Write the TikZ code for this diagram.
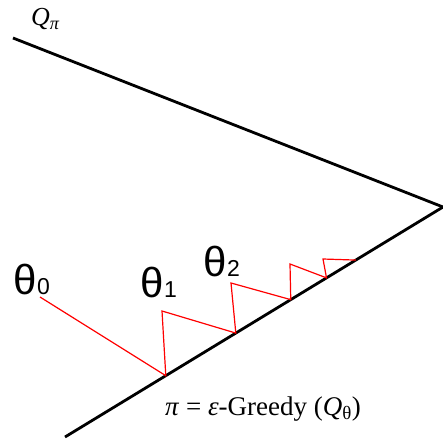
\documentclass[tikz,border=0pt]{standalone}
\usepackage{fontspec}
\setmainfont{Liberation Serif}
\newfontfamily\thetafont{Liberation Sans}
\usetikzlibrary{calc}

\newcommand{\thetalabel}[1]{{\fontsize{42}{42}\selectfont θ}\kern0.5pt{\fontsize{23}{23}\selectfont #1}}

\tikzset{
  axisline/.style={line width=2.8pt, black},
  iterline/.style={line width=1.2pt, red, line join=miter},
  thetanode/.style={anchor=base west, inner sep=0pt, font=\thetafont},
  textlabel/.style={anchor=base west, inner sep=0pt}
}

\begin{document}
\begin{tikzpicture}[x=1pt, y=-1pt]
  \useasboundingbox (0,0) rectangle (443,441);

  % The two lines meeting at the right
  \coordinate (apex) at (443,207);
  \coordinate (up) at (13,38);
  \coordinate (lo) at (65,437);
  \draw[axisline] (up) -- (apex);
  \draw[axisline] (lo) -- (apex);

  % Iterates and their projections on the lower line
  \coordinate (t0) at (40,297);
  \coordinate (t1) at (162,311);
  \coordinate (t2) at (231,283);
  \coordinate (t3) at (290,264);
  \coordinate (t4) at (323,259);
  \coordinate (p1) at ($(lo)!(166,376)!(apex)$);
  \coordinate (p2) at ($(lo)!(237,335)!(apex)$);
  \coordinate (p3) at ($(lo)!(291,300)!(apex)$);
  \coordinate (p4) at ($(lo)!(326,277)!(apex)$);
  \coordinate (p5) at ($(lo)!(357,262)!(apex)$);
  \draw[iterline] (t0) -- (p1) -- (t1) -- (p2) -- (t2) -- (p3) -- (t3) -- (p4) -- (t4) -- (p5);

  % Labels
  \node[thetanode] (th0) at (13,294) {\thetalabel{0}};
  \node[thetanode] (th1) at (140,297) {\thetalabel{1}};
  \node[thetanode] (th2) at (203,276) {\thetalabel{2}};

  \node[textlabel, font=\fontsize{26}{26}\selectfont] (qpi) at (31,26) {\textit{Q}\textsubscript{\textit{π}}};
  \node[textlabel, font=\fontsize{27}{27}\selectfont] (policy) at (165,415) {\textit{π} = \textit{ε}-Greedy (\textit{Q}\textsubscript{θ})};
\end{tikzpicture}
\end{document}
